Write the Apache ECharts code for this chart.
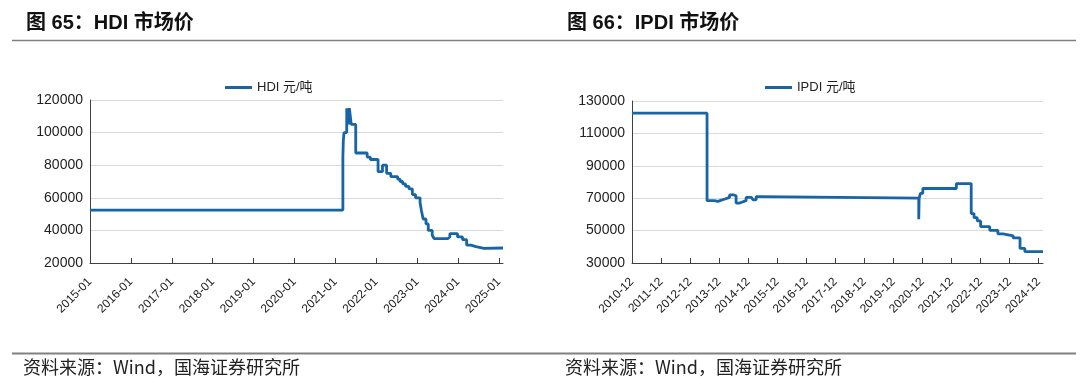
<!DOCTYPE html>
<html>
<head>
<meta charset="utf-8">
<script src="https://cdn.jsdelivr.net/npm/echarts@6/dist/echarts.min.js"></script>
<style>
html,body{margin:0;padding:0;background:#fff;}
#c{width:1080px;height:389px;}
</style>
</head>
<body>
<div id="c"></div>
<script>
// ---- data ----
const hdiName = 'HDI 元/吨';
const ipdiName = 'IPDI 元/吨';
const hdiDates = ['2015-01-01','2021-03-08','2021-03-12','2021-03-18','2021-04-12','2021-04-28','2021-05-05','2021-05-22','2021-07-01','2021-10-12','2021-11-10','2022-01-18','2022-02-27','2022-04-03','2022-05-10','2022-07-10','2022-08-01','2022-08-25','2022-09-20','2022-10-20','2022-11-20','2022-12-18','2023-01-28','2023-02-10','2023-02-25','2023-03-20','2023-04-10','2023-05-15','2023-06-01','2023-10-01','2023-10-20','2023-12-28','2024-02-12','2024-03-18','2024-04-25','2024-06-10','2024-08-20','2025-02-08'];
const hdiValues = [52500,85000,95000,100000,115000,105000,115000,105000,87500,85000,83500,76000,80000,75000,73000,71500,70000,68500,67000,65500,62000,60000,57000,52000,47000,44000,40000,37000,35000,36000,38000,36000,34300,31000,30000,29000,29200,29200];
const ipdiDates = ['2010-12-01','2013-07-01','2013-10-01','2013-11-15','2013-12-10','2014-02-15','2014-04-10','2014-06-05','2014-07-01','2014-08-15','2014-09-10','2014-11-05','2015-01-10','2015-02-01','2015-03-10','2015-04-20','2020-10-15','2020-10-20','2020-11-05','2020-12-05','2022-02-01','2022-08-05','2022-09-10','2022-10-20','2022-12-01','2023-03-25','2023-07-05','2023-09-10','2024-01-15','2024-04-10','2024-06-10','2025-01-25'];
const ipdiValues = [122500,68500,68000,68500,69500,70500,72000,71500,67000,67500,68500,70500,70500,69000,71000,70000,57000,70000,73000,76000,79000,60500,58000,56000,52500,50200,48000,46800,45500,39000,37000,37000];
const hdiTickLabels = ['2015-01','2016-01','2017-01','2018-01','2019-01','2020-01','2021-01','2022-01','2023-01','2024-01','2025-01'];
const ipdiTickLabels = ['2010-12','2011-12','2012-12','2013-12','2014-12','2015-12','2016-12','2017-12','2018-12','2019-12','2020-12','2021-12','2022-12','2023-12','2024-12'];
const hdiAxisRange = ['2015-01-01','2025-02-08'];
const ipdiAxisRange = ['2010-12-01','2025-01-25'];
const hdiY = {min:20000, max:120000, interval:20000};
const ipdiY = {min:30000, max:130000, interval:20000};

// ---- helpers: dates -> month number ----
function toM(s){ const p=s.split('-'); return (+p[0])*12 + (+p[1]-1) + ((+p[2]||1)-1)/30.5; }
function zip(d,v){ return d.map((x,i)=>[toM(x), v[i]]); }
function pad(n){ return n<10?'0'+n:''+n; }
function fmtYM(v){ const r=Math.round(v); const y=Math.floor(r/12); return y+'-'+pad(r-y*12+1); }
const hdiTicks = hdiTickLabels.map(toM);
const ipdiTicks = ipdiTickLabels.map(toM);

const BLUE = '#1764a6';
const FONT = "'Liberation Sans', Arial, 'Noto Sans CJK SC', sans-serif";

function xAxis(gi, range, ticks){
  return {
    type:'value', gridIndex:gi, min:toM(range[0]), max:toM(range[1]),
    axisLine:{show:true, onZero:false, lineStyle:{color:'#404040', width:1}},
    axisTick:{show:true, inside:true, length:5, customValues:ticks, lineStyle:{color:'#404040'}},
    axisLabel:{show:true, rotate:45, margin:17, customValues:ticks, formatter:fmtYM,
      fontSize:12, color:'#222', fontFamily:FONT, hideOverlap:false, showMinLabel:true, showMaxLabel:true},
    splitLine:{show:false}
  };
}
function yAxis(gi, y){
  return {
    type:'value', gridIndex:gi, min:y.min, max:y.max, interval:y.interval,
    axisLine:{show:true, lineStyle:{color:'#404040', width:1}},
    axisTick:{show:false},
    axisLabel:{fontSize:14, color:'#222', margin:7, fontFamily:FONT, formatter:v=>String(v)},
    splitLine:{show:true, lineStyle:{color:'#d9d9d9', width:1}}
  };
}

const chart = echarts.init(document.getElementById('c'), null, {renderer:'canvas'});
chart.setOption({
  animation:false,
  backgroundColor:'#fff',
  textStyle:{fontFamily:FONT},
  title:[
    {text:'图 65：HDI 市场价', left:21, top:8, textStyle:{fontSize:20, fontWeight:'bold', color:'#111', fontFamily:FONT}},
    {text:'图 66：IPDI 市场价', left:562, top:8, textStyle:{fontSize:20, fontWeight:'bold', color:'#111', fontFamily:FONT}}
  ],
  legend:[
    {data:[hdiName], left:220, top:76, icon:'rect', itemWidth:27, itemHeight:3, itemGap:10,
     textStyle:{fontSize:13, color:'#222', fontFamily:FONT}},
    {data:[ipdiName], left:760, top:76, icon:'rect', itemWidth:27, itemHeight:3, itemGap:10,
     textStyle:{fontSize:13, color:'#222', fontFamily:FONT}}
  ],
  grid:[
    {left:90, top:100, width:413, height:163},
    {left:632, top:101, width:411, height:162}
  ],
  xAxis:[xAxis(0, hdiAxisRange, hdiTicks), xAxis(1, ipdiAxisRange, ipdiTicks)],
  yAxis:[yAxis(0, hdiY), yAxis(1, ipdiY)],
  series:[
    {name:hdiName, type:'line', xAxisIndex:0, yAxisIndex:0, step:'end', symbol:'none',
     lineStyle:{color:BLUE, width:2.8}, itemStyle:{color:BLUE}, data:zip(hdiDates,hdiValues)},
    {name:ipdiName, type:'line', xAxisIndex:1, yAxisIndex:1, step:'end', symbol:'none',
     lineStyle:{color:BLUE, width:2.8}, itemStyle:{color:BLUE}, data:zip(ipdiDates,ipdiValues)}
  ],
  graphic:[
    {type:'line', shape:{x1:12, y1:40.5, x2:1076, y2:40.5}, style:{stroke:'#808080', lineWidth:1.5}, silent:true},
    {type:'line', shape:{x1:12, y1:353.5, x2:1076, y2:353.5}, style:{stroke:'#808080', lineWidth:2}, silent:true},
    {type:'text', left:23, top:358, style:{text:'资料来源：Wind，国海证券研究所', fontSize:18, fill:'#222', fontFamily:"'Noto Sans CJK SC', sans-serif"}},
    {type:'text', left:565, top:358, style:{text:'资料来源：Wind，国海证券研究所', fontSize:18, fill:'#222', fontFamily:"'Noto Sans CJK SC', sans-serif"}}
  ]
});
</script>
</body>
</html>
